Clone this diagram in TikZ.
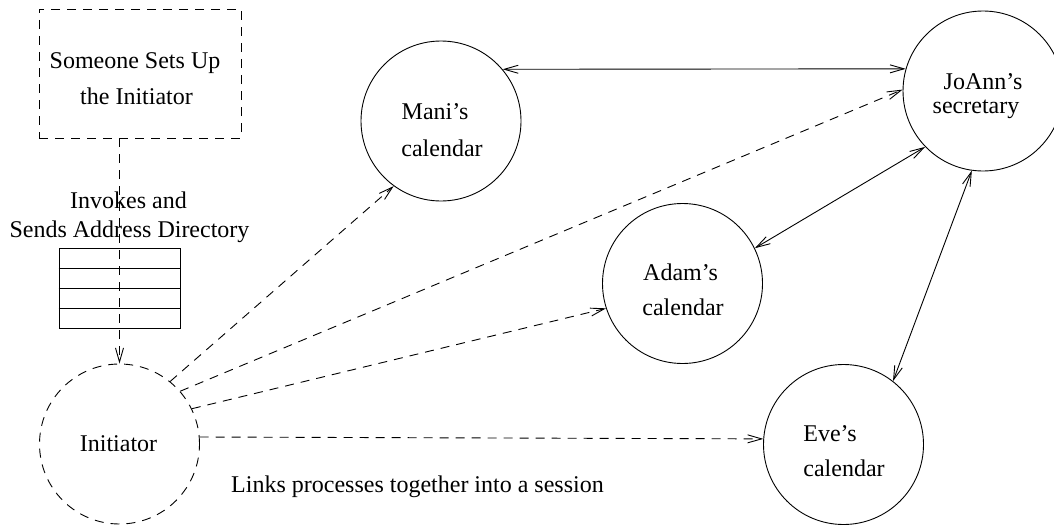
\documentclass[tikz,border=0pt]{standalone}
\usepackage{fontspec}
\setmainfont{Liberation Serif}
\usetikzlibrary{arrows.meta}
\begin{document}
\begin{tikzpicture}[x=1pt,y=-1pt,
  line width=0.9pt,
  lbl/.style={font=\fontsize{24}{29}\selectfont,anchor=base,inner sep=0pt},
  proc/.style={draw,circle,minimum size=160pt,inner sep=0pt},
  dashline/.style={dash pattern=on 9pt off 7pt},
  tip/.style={-{Straight Barb[length=14pt,width=8pt]}},
  both/.style={{Straight Barb[length=14pt,width=8pt]}-{Straight Barb[length=14pt,width=8pt]}}]
\useasboundingbox (0,0) rectangle (1054,527);

% setup box and address directory
\node[draw,dashline,minimum width=202pt,minimum height=129pt,inner sep=0pt] (setup) at (140,73.5) {};
\node[lbl] (setupA) at (135,68) {Someone Sets Up};
\node[lbl] (setupB) at (136.5,104) {the Initiator};
\node[lbl] (invA) at (128.5,208) {Invokes and};
\node[lbl] (invB) at (129.5,237) {Sends Address Directory};
\node[draw,minimum width=121pt,minimum height=80pt,inner sep=0pt] (dir) at (119.5,288) {};
\draw (dir.west |- 0,268) -- (dir.east |- 0,268)
      (dir.west |- 0,288) -- (dir.east |- 0,288)
      (dir.west |- 0,308) -- (dir.east |- 0,308);

% processes
\node[proc,dashline] (init) at (119.5,444) {};
\node[proc] (mani) at (441,121) {};
\node[proc] (joann) at (983,91) {};
\node[proc] (adam) at (682.5,283.5) {};
\node[proc] (eve) at (843.5,444.5) {};

\node[lbl] (initT) at (118.5,451) {Initiator};
\node[lbl] (maniA) at (435,119) {Mani's};
\node[lbl] (maniB) at (442,156) {calendar};
\node[lbl] (joA) at (983,89) {JoAnn's};
\node[lbl] (joB) at (976,113) {secretary};
\node[lbl] (adamA) at (680.5,280) {Adam's};
\node[lbl] (adamB) at (683,315) {calendar};
\node[lbl] (eveA) at (830,441) {Eve's};
\node[lbl] (eveB) at (844,476) {calendar};
\node[lbl] (links) at (417.5,492) {Links processes together into a session};

% invocation
\draw[dashline,tip] (setup.south -| init.north) -- (init.north);

% links set up by the initiator
\draw[dashline,tip] (init.51.2) -- (mani.234.2);
\draw[dashline,tip] (init.41.7) -- (joann.179);
\draw[dashline,tip] (init.26.4) -- (adam.198.9);
\draw[dashline,tip] (init.5) -- (eve.176.8);

% secretary exchanges
\draw[both] (mani.40.4) -- (joann.164);
\draw[both] (joann.224.5) -- (adam.26);
\draw[both] (joann.262.8) -- (eve.52);
\end{tikzpicture}
\end{document}
